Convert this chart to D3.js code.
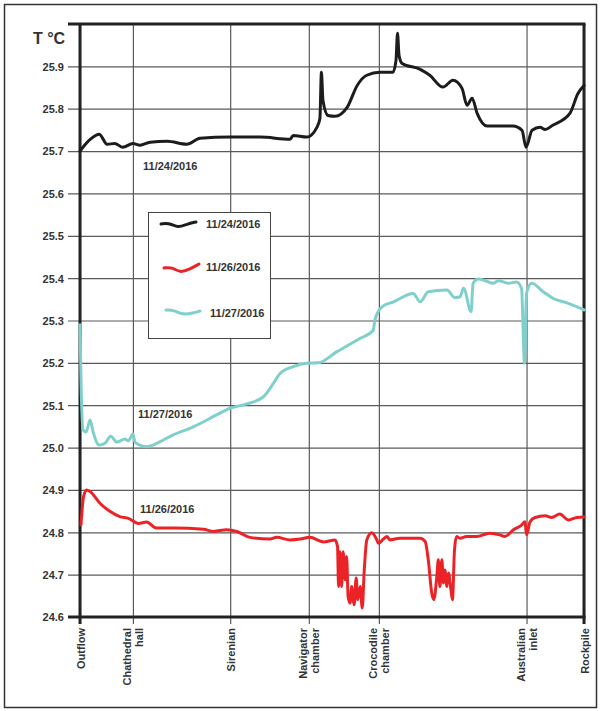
<!DOCTYPE html>
<html>
<head>
<meta charset="utf-8">
<script src="https://cdn.jsdelivr.net/npm/d3@7"></script>
<style>
  body { margin: 0; background: #fff; }
  svg text { font-family: 'Liberation Sans', Arial, sans-serif; font-weight: bold; fill: #333; }
</style>
</head>
<body>
<svg id="chart" width="601" height="711"></svg>
<script>
// stations along the cave (relative distance, 0..100)
const stations = ['Outflow', 'Chathedral\nhall', 'Sirenian', 'Navigator\nchamber', 'Crocodile\nchamber', 'Australian\ninlet', 'Rockpile'];
const stationPos = [0, 10.5, 29.8, 45.4, 59.3, 88.6, 100];

const yTicks = [24.6, 24.7, 24.8, 24.9, 25.0, 25.1, 25.2, 25.3, 25.4, 25.5, 25.6, 25.7, 25.8, 25.9];

// [distance, T °C]
const temp1124 = [
  [0, 25.700], [1.6, 25.723], [3.8, 25.740], [5.4, 25.716], [6.9, 25.718], [8.5, 25.709],
  [10.5, 25.718], [11.9, 25.714], [13.9, 25.721], [17.3, 25.723], [21.2, 25.716], [23.8, 25.730],
  [29.8, 25.733], [35.7, 25.733], [41.7, 25.728], [42.3, 25.737], [45.0, 25.733], [47.0, 25.756],
  [47.6, 25.777], [47.9, 25.886], [48.2, 25.820], [49.2, 25.784], [50.6, 25.782], [53.0, 25.803],
  [55.0, 25.855], [56.9, 25.879], [59.5, 25.886], [62.1, 25.886], [62.7, 25.914], [63.0, 25.978],
  [63.3, 25.926], [63.9, 25.907], [67.5, 25.893], [69.4, 25.879], [72.0, 25.851], [74.0, 25.867],
  [75.8, 25.848], [76.8, 25.808], [77.8, 25.825], [78.8, 25.789], [80.8, 25.759], [85.9, 25.759],
  [87.7, 25.749], [88.5, 25.709], [89.7, 25.749], [91.3, 25.756], [92.3, 25.751], [93.8, 25.761],
  [97.2, 25.789], [98.8, 25.836], [100, 25.855]
];

const temp1126 = [
  [0.2, 24.818], [0.7, 24.884], [1.3, 24.900], [2.0, 24.896], [4.0, 24.868], [6.0, 24.849],
  [7.9, 24.837], [9.6, 24.833], [11.6, 24.821], [13.2, 24.824], [15.2, 24.810], [18.5, 24.810],
  [24.5, 24.807], [26.5, 24.802], [29.1, 24.806], [31.1, 24.802], [33.7, 24.788], [37.7, 24.784],
  [39.0, 24.788], [41.7, 24.782], [43.7, 24.784], [45.6, 24.788], [48.3, 24.777], [50.6, 24.782],
  [51.1, 24.766], [51.3, 24.672], [51.6, 24.754], [51.9, 24.672], [52.2, 24.754], [52.6, 24.688],
  [52.9, 24.743], [53.2, 24.648], [53.6, 24.633], [53.9, 24.672], [54.4, 24.629], [54.8, 24.692],
  [55.1, 24.641], [55.6, 24.672], [56.0, 24.621], [56.4, 24.711], [56.9, 24.782], [57.9, 24.799],
  [58.9, 24.782], [59.2, 24.774], [60.2, 24.784], [60.9, 24.790], [61.5, 24.782], [63.5, 24.786],
  [67.5, 24.786], [68.5, 24.778], [69.1, 24.735], [69.8, 24.656], [70.2, 24.641], [70.8, 24.696],
  [71.1, 24.735], [71.4, 24.672], [71.8, 24.735], [72.1, 24.680], [72.4, 24.711], [72.8, 24.672],
  [73.1, 24.704], [73.6, 24.664], [73.9, 24.641], [74.3, 24.758], [74.7, 24.790], [75.4, 24.786],
  [76.7, 24.790], [78.7, 24.790], [81.3, 24.798], [83.3, 24.794], [84.3, 24.790], [86.0, 24.806],
  [87.6, 24.817], [88.3, 24.825], [88.6, 24.794], [89.3, 24.825], [90.3, 24.835], [92.3, 24.839],
  [93.6, 24.835], [95.2, 24.843], [96.9, 24.829], [98.6, 24.835], [100, 24.836]
];

const temp1127 = [
  [0, 25.290], [0.2, 25.160], [0.6, 25.042], [1.2, 25.037], [2.0, 25.065], [2.6, 25.037],
  [3.8, 25.006], [5.0, 25.011], [6.1, 25.027], [7.3, 25.013], [8.9, 25.020], [9.6, 25.016],
  [10.5, 25.032], [10.9, 25.013], [11.9, 25.006], [13.2, 25.002], [15.9, 25.014], [18.5, 25.030],
  [22.5, 25.049], [27.1, 25.077], [29.8, 25.093], [33.1, 25.103], [36.4, 25.120], [38.4, 25.152],
  [39.7, 25.175], [42.3, 25.191], [45.0, 25.199], [47.3, 25.200], [50.9, 25.226], [55.6, 25.258],
  [58.2, 25.277], [58.5, 25.301], [59.9, 25.332], [62.2, 25.344], [66.1, 25.364], [67.5, 25.344],
  [69.1, 25.368], [72.8, 25.372], [74.4, 25.354], [75.4, 25.356], [76.1, 25.376], [77.6, 25.321],
  [78.0, 25.388], [79.0, 25.398], [80.4, 25.394], [82.0, 25.388], [83.0, 25.394], [85.0, 25.388],
  [86.6, 25.391], [87.6, 25.376], [88.2, 25.199], [88.6, 25.364], [89.6, 25.388], [91.9, 25.368],
  [93.9, 25.352], [96.5, 25.342], [100, 25.325]
];

const seriesNames = ['11/24/2016', '11/26/2016', '11/27/2016'];
const seriesColors = ['#1c1c1c', '#ec2326', '#7fd0cc'];

const margin = { top: 24, left: 80 };
const width = 504;
const height = 593;

const svg = d3.select('#chart');

// outer border
svg.append('rect')
  .attr('x', 4.5).attr('y', 4.5)
  .attr('width', 592).attr('height', 703)
  .attr('fill', 'none').attr('stroke', '#333').attr('stroke-width', 1.5);

const g = svg.append('g').attr('transform', 'translate(' + margin.left + ',' + margin.top + ')');

const x = d3.scaleLinear().domain([0, 100]).range([0, width]);
const y = d3.scaleLinear().domain([24.6, 26.0]).range([height, 0]);

/* Y axis with gridlines */
const yAxis = g.append('g')
  .attr('class', 'y-axis')
  .call(d3.axisLeft(y).tickValues(yTicks).tickSize(-width).tickSizeOuter(0).tickFormat(d3.format('.1f')));
yAxis.select('.domain').remove();
yAxis.selectAll('line').attr('x1', -12).attr('stroke', '#5a5a5a').attr('stroke-width', 1.2);
yAxis.selectAll('text').attr('x', -16).attr('dy', '0.35em').style('font-size', '11px').attr('fill', '#333');

/* X axis with gridlines */
const xAxis = g.append('g')
  .attr('class', 'x-axis')
  .attr('transform', 'translate(0,' + height + ')')
  .call(d3.axisBottom(x).tickValues(stationPos).tickSize(-height).tickSizeOuter(0).tickFormat(''));
xAxis.select('.domain').remove();
xAxis.selectAll('line').attr('y1', 7).attr('stroke', '#5a5a5a').attr('stroke-width', 1.2);

// station labels, rotated
xAxis.selectAll('.tick').each(function (d, i) {
  const lines = stations[i].split('\n');
  const tick = d3.select(this);
  lines.forEach((ln, j) => {
    const off = lines.length === 1 ? 4 : (j === 0 ? -2 : 9.5);
    tick.append('text')
      .attr('transform', 'translate(' + off + ',11) rotate(-90)')
      .attr('text-anchor', 'end')
      .attr('fill', '#333')
      .style('font-size', '11px')
      .text(ln);
  });
});

/* Frame */
const frame = g.append('g').attr('stroke', '#222').attr('stroke-width', 3).attr('fill', 'none');
frame.append('line').attr('x1', -12).attr('x2', width + 1.5).attr('y1', 0).attr('y2', 0);
frame.append('line').attr('x1', -12).attr('x2', width + 1.5).attr('y1', height).attr('y2', height);
frame.append('line').attr('x1', 0).attr('x2', 0).attr('y1', 0).attr('y2', height + 7);
frame.append('line').attr('x1', width).attr('x2', width).attr('y1', 0).attr('y2', height + 7);

/* Lines */
const line = d3.line()
  .x(d => x(d[0]))
  .y(d => y(d[1]))
  .curve(d3.curveMonotoneX);

[temp1124, temp1126, temp1127].forEach((data, i) => {
  g.append('path')
    .datum(data)
    .attr('fill', 'none')
    .attr('stroke', seriesColors[i])
    .attr('stroke-width', 3)
    .attr('stroke-linejoin', 'round')
    .attr('stroke-linecap', 'round')
    .attr('d', line);
});

/* Labels on the curves */
const curveLabels = [
  { text: seriesNames[0], x: 143, y: 170 },
  { text: seriesNames[2], x: 138, y: 418 },
  { text: seriesNames[1], x: 140, y: 513 }
];
svg.selectAll('.curve-label')
  .data(curveLabels)
  .enter().append('text')
  .attr('class', 'curve-label')
  .attr('x', d => d.x).attr('y', d => d.y)
  .style('font-size', '11px')
  .attr('fill', '#333')
  .text(d => d.text);

// Y axis title
svg.append('text')
  .attr('x', 33).attr('y', 44)
  .style('font-size', '16px')
  .attr('fill', '#222')
  .text('T °C');

/* Legend */
const legend = svg.append('g').attr('class', 'legend');
legend.append('rect')
  .attr('x', 148.5).attr('y', 212.5)
  .attr('width', 122).attr('height', 126)
  .attr('fill', '#fff').attr('stroke', '#444').attr('stroke-width', 1);

const swatch = d3.line().curve(d3.curveBasis);
const legendItems = [
  { pts: [[161, 224], [170, 223], [178, 228], [187, 224], [196, 222]], tx: 206, ty: 228 },
  { pts: [[164, 268], [172, 267], [180, 273], [190, 269], [199, 264]], tx: 206, ty: 271 },
  { pts: [[166, 310], [174, 310], [183, 315], [193, 313], [200, 311]], tx: 210, ty: 317 }
];
legendItems.forEach((it, i) => {
  legend.append('path')
    .attr('d', swatch(it.pts))
    .attr('fill', 'none')
    .attr('stroke', seriesColors[i])
    .attr('stroke-width', 3)
    .attr('stroke-linecap', 'round');
  legend.append('text')
    .attr('x', it.tx).attr('y', it.ty)
    .style('font-size', '11px')
    .attr('fill', '#333')
    .text(seriesNames[i]);
});
</script>
</body>
</html>
